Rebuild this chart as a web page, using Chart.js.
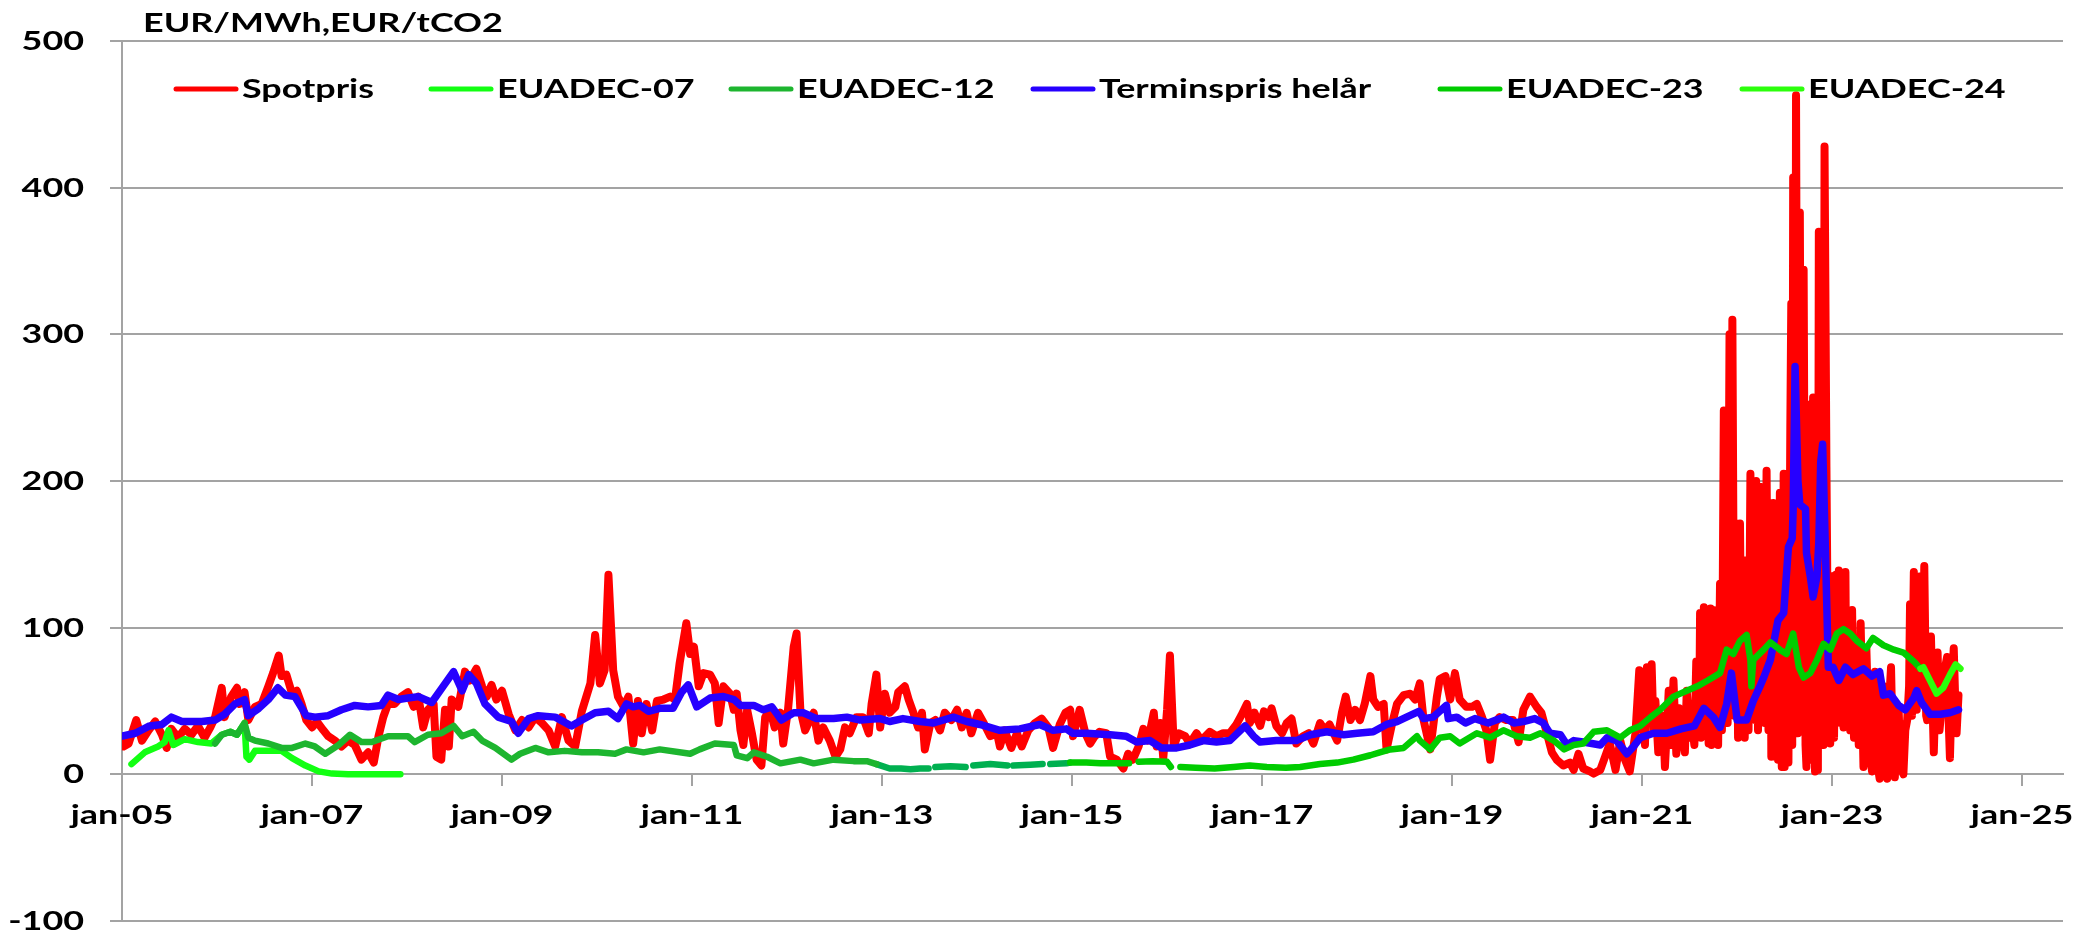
<!DOCTYPE html>
<html>
<head>
<meta charset="utf-8">
<script src="https://cdn.jsdelivr.net/npm/chart.js@4.4.1/dist/chart.umd.min.js"></script>
<style>
  html, body { margin: 0; padding: 0; background: #ffffff; }
  #wrap { width: 2078px; height: 936px; position: relative; }
</style>
</head>
<body>
<div id="wrap"><canvas id="chart" width="2078" height="936"></canvas></div>
<script>
// Prices per date, as [decimal year, value]. Dates are fractional years (2005.5 = early July 2005).
const spotpris = [
  [2005.00,25],[2005.02,19],[2005.07,21],[2005.15,37],[2005.21,23],[2005.28,30],[2005.35,36],[2005.42,27],
  [2005.47,18],[2005.52,31],[2005.59,25],[2005.66,31],[2005.73,27],[2005.80,33],[2005.87,25],[2005.93,32],
  [2005.98,39],[2006.05,59],[2006.08,39],[2006.15,53],[2006.21,59],[2006.24,48],[2006.29,56],[2006.33,37],
  [2006.40,46],[2006.47,48],[2006.54,60],[2006.59,69],[2006.65,81],[2006.68,67],[2006.73,68],[2006.79,55],
  [2006.84,57],[2006.89,48],[2006.94,37],[2007.00,32],[2007.05,36],[2007.12,30],[2007.17,26],[2007.24,23],
  [2007.31,19],[2007.38,23],[2007.45,20],[2007.52,10],[2007.59,15],[2007.65,8],[2007.70,26],[2007.75,39],
  [2007.80,48],[2007.87,48],[2007.94,53],[2008.01,56],[2008.07,46],[2008.12,53],[2008.17,32],[2008.22,44],
  [2008.28,48],[2008.31,12],[2008.36,10],[2008.40,44],[2008.44,19],[2008.47,51],[2008.54,46],[2008.61,70],
  [2008.66,64],[2008.73,72],[2008.79,60],[2008.84,53],[2008.89,61],[2008.94,51],[2009.00,57],[2009.07,41],
  [2009.14,30],[2009.21,37],[2009.28,32],[2009.35,39],[2009.42,35],[2009.49,30],[2009.56,19],[2009.63,39],
  [2009.70,23],[2009.77,19],[2009.84,43],[2009.93,62],[2009.98,95],[2010.03,62],[2010.08,71],[2010.12,136],
  [2010.17,71],[2010.22,53],[2010.28,46],[2010.33,53],[2010.38,21],[2010.43,50],[2010.47,28],[2010.52,48],
  [2010.58,30],[2010.63,50],[2010.70,51],[2010.77,53],[2010.82,51],[2010.87,76],[2010.94,103],[2010.98,82],
  [2011.02,87],[2011.07,60],[2011.12,69],[2011.19,68],[2011.24,62],[2011.28,35],[2011.33,60],[2011.40,55],
  [2011.44,44],[2011.47,55],[2011.51,30],[2011.54,20],[2011.58,44],[2011.63,28],[2011.68,10],[2011.73,6],
  [2011.77,39],[2011.82,44],[2011.87,32],[2011.93,42],[2011.96,21],[2012.01,44],[2012.07,87],[2012.10,96],
  [2012.14,44],[2012.19,30],[2012.24,37],[2012.28,42],[2012.33,23],[2012.38,32],[2012.45,23],[2012.51,12],
  [2012.56,17],[2012.61,32],[2012.66,28],[2012.73,39],[2012.80,39],[2012.86,28],[2012.89,48],[2012.94,68],
  [2012.98,32],[2013.03,55],[2013.08,42],[2013.14,46],[2013.17,56],[2013.24,60],[2013.28,51],[2013.33,42],
  [2013.38,32],[2013.42,42],[2013.45,17],[2013.51,35],[2013.56,37],[2013.61,30],[2013.66,42],[2013.73,37],
  [2013.79,44],[2013.84,32],[2013.89,42],[2013.94,28],[2014.01,42],[2014.07,35],[2014.14,26],[2014.21,28],
  [2014.24,19],[2014.29,30],[2014.36,18],[2014.42,28],[2014.47,19],[2014.54,30],[2014.61,35],[2014.68,38],
  [2014.75,32],[2014.80,18],[2014.87,34],[2014.93,42],[2014.98,44],[2015.01,26],[2015.08,44],[2015.14,28],
  [2015.19,21],[2015.24,26],[2015.29,29],[2015.36,28],[2015.40,12],[2015.47,10],[2015.54,4],[2015.59,14],
  [2015.64,10],[2015.70,19],[2015.75,31],[2015.80,23],[2015.86,42],[2015.89,19],[2015.93,35],[2015.96,11],
  [2016.00,44],[2016.03,81],[2016.07,19],[2016.12,28],[2016.19,26],[2016.24,21],[2016.31,28],[2016.36,23],
  [2016.45,29],[2016.52,26],[2016.59,28],[2016.66,28],[2016.73,34],[2016.78,40],[2016.84,48],[2016.87,35],
  [2016.92,42],[2016.98,33],[2017.02,43],[2017.07,39],[2017.10,45],[2017.15,33],[2017.21,28],[2017.26,35],
  [2017.31,38],[2017.36,21],[2017.43,26],[2017.49,28],[2017.54,21],[2017.61,35],[2017.66,30],[2017.71,34],
  [2017.79,23],[2017.84,42],[2017.88,53],[2017.93,37],[2017.98,44],[2018.03,37],[2018.08,48],[2018.14,67],
  [2018.17,51],[2018.22,46],[2018.28,48],[2018.31,17],[2018.37,35],[2018.42,48],[2018.49,54],[2018.56,55],
  [2018.61,51],[2018.66,62],[2018.70,37],[2018.77,17],[2018.84,53],[2018.87,65],[2018.93,67],[2018.98,51],
  [2019.03,69],[2019.08,51],[2019.15,46],[2019.21,46],[2019.26,48],[2019.31,40],[2019.36,30],[2019.40,10],
  [2019.45,35],[2019.50,39],[2019.57,37],[2019.64,37],[2019.70,22],[2019.75,44],[2019.82,53],[2019.89,46],
  [2019.94,42],[2019.99,30],[2020.05,15],[2020.10,10],[2020.17,6],[2020.24,8],[2020.28,3],[2020.33,14],
  [2020.38,4],[2020.45,2],[2020.49,0.5],[2020.56,3],[2020.61,12],[2020.66,21],[2020.72,3],[2020.77,23],
  [2020.82,10],[2020.87,2],[2020.93,28],[2020.97,71],[2021.00,30],[2021.01,39],[2021.03,20],[2021.05,73],
  [2021.07,35],[2021.10,75],[2021.12,30],[2021.14,50],[2021.17,15],[2021.19,23],[2021.22,40],[2021.24,5],
  [2021.26,30],[2021.28,57],[2021.31,20],[2021.33,64],[2021.36,14],[2021.39,45],[2021.42,28],[2021.45,15],
  [2021.47,57],[2021.50,25],[2021.52,37],[2021.55,20],[2021.57,77],[2021.60,30],[2021.61,110],[2021.62,25],
  [2021.65,114],[2021.66,30],[2021.68,112],[2021.70,21],[2021.72,113],[2021.73,20],[2021.75,112],[2021.77,22],
  [2021.79,105],[2021.80,20],[2021.82,130],[2021.84,30],[2021.86,248],[2021.87,40],[2021.89,240],[2021.90,35],
  [2021.92,300],[2021.94,45],[2021.95,310],[2021.97,40],[2021.99,171],[2022.01,25],[2022.03,171],[2022.05,28],
  [2022.07,146],[2022.08,25],[2022.10,146],[2022.12,30],[2022.14,205],[2022.15,38],[2022.17,200],[2022.19,37],
  [2022.20,200],[2022.22,30],[2022.24,196],[2022.26,37],[2022.28,170],[2022.29,35],[2022.31,207],[2022.33,30],
  [2022.35,185],[2022.36,12],[2022.38,185],[2022.40,12],[2022.42,170],[2022.43,10],[2022.45,192],[2022.47,5],
  [2022.49,205],[2022.50,5],[2022.52,205],[2022.54,8],[2022.56,237],[2022.57,321],[2022.58,20],[2022.59,407],
  [2022.61,30],[2022.62,463],[2022.64,28],[2022.66,383],[2022.68,30],[2022.70,344],[2022.72,20],[2022.73,5],
  [2022.75,252],[2022.77,10],[2022.79,155],[2022.80,257],[2022.82,2],[2022.84,240],[2022.85,3],[2022.86,370],
  [2022.89,135],[2022.91,20],[2022.92,428],[2022.94,210],[2022.96,40],[2022.98,21],[2023.00,135],[2023.02,25],
  [2023.04,136],[2023.05,45],[2023.07,139],[2023.09,35],[2023.10,119],[2023.12,32],[2023.14,138],[2023.15,40],
  [2023.17,86],[2023.19,30],[2023.21,112],[2023.23,25],[2023.26,83],[2023.28,20],[2023.30,103],[2023.33,5],
  [2023.35,60],[2023.36,86],[2023.39,20],[2023.42,2],[2023.44,50],[2023.45,70],[2023.47,10],[2023.50,-3],
  [2023.52,45],[2023.54,60],[2023.56,15],[2023.58,-3],[2023.60,50],[2023.62,73],[2023.64,10],[2023.66,-2],
  [2023.68,35],[2023.70,44],[2023.72,5],[2023.75,0],[2023.77,30],[2023.79,37],[2023.81,60],[2023.82,116],
  [2023.84,40],[2023.86,138],[2023.88,60],[2023.89,44],[2023.91,100],[2023.93,135],[2023.95,50],[2023.97,142],
  [2023.99,40],[2024.00,37],[2024.02,70],[2024.04,94],[2024.06,40],[2024.07,15],[2024.09,60],[2024.11,83],
  [2024.13,30],[2024.15,44],[2024.18,70],[2024.21,80],[2024.23,30],[2024.24,11],[2024.26,60],[2024.28,86],
  [2024.30,40],[2024.31,28],[2024.33,54]
];

const euadec07 = [
  [2005.10,7],[2005.24,15],[2005.38,19],[2005.45,22],[2005.49,30],[2005.54,20],[2005.66,24],[2005.80,22],
  [2005.94,21],[2006.05,27],[2006.14,29],[2006.21,27],[2006.29,35],[2006.31,12],[2006.34,10],[2006.40,16],
  [2006.54,16],[2006.68,16],[2006.79,11],[2006.93,6],[2007.07,2],[2007.21,0.5],[2007.38,0.1],[2007.93,0.05]
];

const euadec12 = [
  [2005.98,21],[2006.05,27],[2006.14,29],[2006.21,27],[2006.29,35],[2006.33,25],[2006.40,23],[2006.54,21],
  [2006.68,18],[2006.79,18],[2006.93,21],[2007.03,19],[2007.14,14],[2007.28,20],[2007.40,27],[2007.52,22],
  [2007.63,22],[2007.80,26],[2008.01,26],[2008.08,22],[2008.22,27],[2008.36,28],[2008.49,33],[2008.58,26],
  [2008.70,29],[2008.79,23],[2008.93,18],[2009.10,10],[2009.19,14],[2009.35,18],[2009.49,15],[2009.66,16],
  [2009.84,15],[2010.01,15],[2010.19,14],[2010.31,17],[2010.49,15],[2010.66,17],[2010.98,14],[2011.08,17],
  [2011.24,21],[2011.44,20],[2011.47,13],[2011.58,11],[2011.65,15],[2011.79,12],[2011.93,7.5],[2012.14,10],
  [2012.28,7.5],[2012.49,10],[2012.70,9],[2012.84,9],[2012.94,7]
];

// Front contract between the two legend series; null marks days without quotes.
const euadec14 = [
  [2012.94,7],[2013.08,4],[2013.20,4],[2013.30,3.5],[2013.40,4],[2013.49,4],[2013.52,null],[2013.56,5],
  [2013.72,5.5],[2013.88,5],[2013.92,null],[2013.96,6],[2014.14,7],[2014.32,6],[2014.35,null],[2014.38,6],
  [2014.56,6.5],[2014.69,7],[2014.73,null],[2014.77,7],[2014.94,7.5],[2014.98,8]
];

const terminspris = [
  [2005.00,26],[2005.14,28],[2005.29,33],[2005.42,34],[2005.52,39],[2005.63,36],[2005.84,36],[2005.98,37],
  [2006.08,41],[2006.19,48],[2006.29,51],[2006.33,40],[2006.44,45],[2006.54,51],[2006.64,59],[2006.72,54],
  [2006.82,53],[2006.94,40],[2007.03,39],[2007.17,40],[2007.31,44],[2007.45,47],[2007.59,46],[2007.73,47],
  [2007.80,54],[2007.91,51],[2008.01,52],[2008.12,53],[2008.26,49],[2008.38,60],[2008.49,70],[2008.58,57],
  [2008.65,68],[2008.73,62],[2008.82,48],[2008.96,39],[2009.10,36],[2009.17,28],[2009.28,38],[2009.38,40],
  [2009.56,39],[2009.73,33],[2009.84,37],[2009.98,42],[2010.12,43],[2010.22,38],[2010.31,48],[2010.38,46],
  [2010.45,47],[2010.54,43],[2010.66,45],[2010.80,45],[2010.89,56],[2010.96,61],[2011.05,46],[2011.19,52],
  [2011.33,53],[2011.44,51],[2011.51,47],[2011.65,47],[2011.75,44],[2011.84,46],[2011.94,37],[2012.07,42],
  [2012.17,42],[2012.31,38],[2012.49,38],[2012.63,39],[2012.77,37],[2012.98,38],[2013.08,36],[2013.22,38],
  [2013.40,36],[2013.54,35],[2013.75,39],[2013.89,36],[2014.03,34],[2014.24,30],[2014.45,31],[2014.66,34],
  [2014.80,30],[2014.94,31],[2015.01,28],[2015.15,28],[2015.40,27],[2015.57,26],[2015.68,22],[2015.82,23],
  [2015.94,18],[2016.10,18],[2016.24,20],[2016.38,23],[2016.52,22],[2016.66,23],[2016.82,33],[2016.91,26],
  [2016.98,22],[2017.15,23],[2017.36,23],[2017.51,27],[2017.68,29],[2017.86,27],[2018.00,28],[2018.17,29],
  [2018.31,34],[2018.42,36],[2018.52,39],[2018.65,43],[2018.70,38],[2018.80,39],[2018.87,43],[2018.94,47],
  [2018.96,38],[2019.05,39],[2019.14,35],[2019.24,38],[2019.38,35],[2019.54,39],[2019.65,35],[2019.75,36],
  [2019.87,38],[2019.96,35],[2020.03,28],[2020.14,27],[2020.21,20],[2020.28,23],[2020.38,22],[2020.56,20],
  [2020.63,25],[2020.73,23],[2020.84,14],[2020.91,19],[2020.98,25],[2021.12,28],[2021.26,28],[2021.41,31],
  [2021.55,33],[2021.65,45],[2021.75,39],[2021.82,32],[2021.89,48],[2021.94,69],[2022.00,37],[2022.10,37],
  [2022.17,50],[2022.24,60],[2022.28,66],[2022.35,78],[2022.43,105],[2022.49,110],[2022.54,155],[2022.58,161],
  [2022.59,181],[2022.61,278],[2022.64,200],[2022.66,184],[2022.72,181],[2022.73,151],[2022.77,135],[2022.80,121],
  [2022.84,135],[2022.86,158],[2022.88,213],[2022.90,225],[2022.93,151],[2022.96,73],[2023.01,73],[2023.07,64],
  [2023.14,73],[2023.22,68],[2023.33,72],[2023.42,67],[2023.50,70],[2023.54,54],[2023.61,55],[2023.70,47],
  [2023.77,44],[2023.86,52],[2023.89,57],[2023.94,49],[2024.03,41],[2024.14,41],[2024.24,42],[2024.33,44]
];

const euadec23 = [
  [2014.98,8],[2015.15,8],[2015.30,7.5],[2015.45,7.5],[2015.60,7.5],[2015.65,null],[2015.70,8.6],[2015.85,9],
  [2016.00,8.5],[2016.04,5],[2016.09,null],[2016.14,5],[2016.30,4.5],[2016.50,4],[2016.70,5],[2016.87,6],
  [2017.05,5],[2017.25,4.5],[2017.40,5],[2017.61,7],[2017.79,8],[2017.96,10],[2018.14,13],[2018.24,15],
  [2018.35,17],[2018.49,18],[2018.63,26],[2018.66,23],[2018.77,17],[2018.87,25],[2018.98,26],[2019.08,21],
  [2019.26,28],[2019.40,25],[2019.54,30],[2019.68,26],[2019.82,25],[2019.93,28],[2020.07,23],[2020.18,17],
  [2020.28,20],[2020.38,21],[2020.49,29],[2020.63,30],[2020.77,25],[2020.87,30],[2020.98,33],[2021.09,39],
  [2021.19,44],[2021.33,53],[2021.47,57],[2021.58,60],[2021.69,64],[2021.82,69],[2021.89,85],[2021.96,82],
  [2022.03,91],[2022.10,95],[2022.14,78],[2022.15,60],[2022.17,78],[2022.28,85],[2022.35,90],[2022.45,85],
  [2022.52,82],[2022.59,96],[2022.65,73],[2022.70,66],[2022.77,69],[2022.84,78],[2022.91,89],[2022.98,85],
  [2023.05,96],[2023.12,99],[2023.19,96],[2023.26,91],[2023.36,86],[2023.43,93],[2023.54,88],[2023.65,85],
  [2023.75,83],[2023.86,77],[2023.93,72]
];

const euadec24 = [
  [2023.93,72],[2023.96,73],[2024.03,64],[2024.10,55],[2024.17,59],[2024.24,68],[2024.30,75],[2024.35,72]
];

const xTickYears  = [2005, 2007, 2009, 2011, 2013, 2015, 2017, 2019, 2021, 2023, 2025];
const xTickLabels = ['jan-05','jan-07','jan-09','jan-11','jan-13','jan-15','jan-17','jan-19','jan-21','jan-23','jan-25'];
const yTickValues = [-100, 0, 100, 200, 300, 400, 500];
const unitLabel = 'EUR/MWh,EUR/tCO2';

const GRID = '#a3a3a3';
const FONT = 'Lato, "Liberation Sans", sans-serif';
const FONT_SIZE = 26;
const STRETCH = 1.38;
// left edge of each legend entry's sample line
const LEGEND_SLOTS = [176, 431, 731, 1033, 1440, 1742];

function toPoints(rows) { return rows.map(r => ({ x: r[0], y: r[1] })); }

function series(label, rows, color, width, order, inLegend) {
  return {
    label, data: toPoints(rows), borderColor: color, backgroundColor: color,
    borderWidth: width, pointRadius: 0, tension: 0, order,
    borderJoinStyle: 'round', borderCapStyle: 'round', spanGaps: false,
    inLegend
  };
}

// Wide bold lettering, drawn with a horizontal stretch.
function wideText(ctx, text, x, baseline, align) {
  ctx.save();
  ctx.font = `bold ${FONT_SIZE}px ${FONT}`;
  ctx.fillStyle = '#000000';
  ctx.textAlign = 'left';
  ctx.textBaseline = 'alphabetic';
  const w = ctx.measureText(text).width * STRETCH;
  let left = x;
  if (align === 'right') left = x - w;
  else if (align === 'center') left = x - w / 2;
  ctx.translate(left, baseline);
  ctx.scale(STRETCH, 1);
  ctx.fillText(text, 0, 0);
  ctx.restore();
  return left + w;
}

const textPlugin = {
  id: 'wideLabels',
  afterDraw(chart) {
    const ctx = chart.ctx;
    const xs = chart.scales.x, ys = chart.scales.y;
    // unit caption
    wideText(ctx, unitLabel, 143, 32, 'left');
    // value axis labels
    ys.ticks.forEach(t => wideText(ctx, String(t.value), 84, ys.getPixelForValue(t.value) + 9, 'right'));
    // date axis labels, under the zero line
    const zeroY = ys.getPixelForValue(0);
    xs.ticks.forEach((t, i) => wideText(ctx, xTickLabels[i], xs.getPixelForValue(t.value), zeroY + 50, 'center'));
    // legend row
    const lineY = 89;
    chart.data.datasets.filter(ds => ds.inLegend).forEach((ds, i) => {
      const x = LEGEND_SLOTS[i];
      ctx.save();
      ctx.strokeStyle = ds.borderColor;
      ctx.lineWidth = 5;
      ctx.lineCap = 'round';
      ctx.beginPath();
      ctx.moveTo(x, lineY);
      ctx.lineTo(x + 60, lineY);
      ctx.stroke();
      ctx.restore();
      wideText(ctx, ds.label, x + 66, 98, 'left');
    });
  }
};

new Chart(document.getElementById('chart'), {
  type: 'line',
  data: {
    datasets: [
      series('Spotpris', spotpris, '#ff0000', 8, 6, true),
      series('EUADEC-07', euadec07, '#12ff12', 6.5, 5, true),
      series('EUADEC-12', euadec12, '#1db52f', 6.5, 4, true),
      series('EUADEC-14', euadec14, '#00b050', 6.5, 4, false),
      series('Terminspris helår', terminspris, '#2600ff', 7.5, 3, true),
      series('EUADEC-23', euadec23, '#00cc00', 6.5, 2, true),
      series('EUADEC-24', euadec24, '#2cff0c', 6.5, 1, true)
    ]
  },
  options: {
    responsive: false,
    devicePixelRatio: 1,
    animation: false,
    events: [],
    layout: { padding: { left: 0, top: 41, right: 15, bottom: 15 } },
    plugins: { legend: { display: false }, title: { display: false }, tooltip: { enabled: false } },
    scales: {
      x: {
        type: 'linear', min: 2005, max: 2025.43,
        position: { y: 0 },
        afterBuildTicks: s => { s.ticks = xTickYears.map(v => ({ value: v })); },
        afterFit: s => { s.height = 0; },
        ticks: { display: false },
        grid: { display: true, drawOnChartArea: false, drawTicks: true, tickLength: 11, color: GRID, lineWidth: 2 },
        border: { display: true, color: GRID, width: 2 }
      },
      y: {
        type: 'linear', min: -100, max: 500,
        afterBuildTicks: s => { s.ticks = yTickValues.map(v => ({ value: v })); },
        afterFit: s => { s.width = 122; },
        ticks: { display: false },
        grid: { color: GRID, lineWidth: 2, drawTicks: true, tickLength: 12 },
        border: { display: true, color: GRID, width: 2 }
      }
    }
  },
  plugins: [textPlugin]
});
</script>
</body>
</html>
